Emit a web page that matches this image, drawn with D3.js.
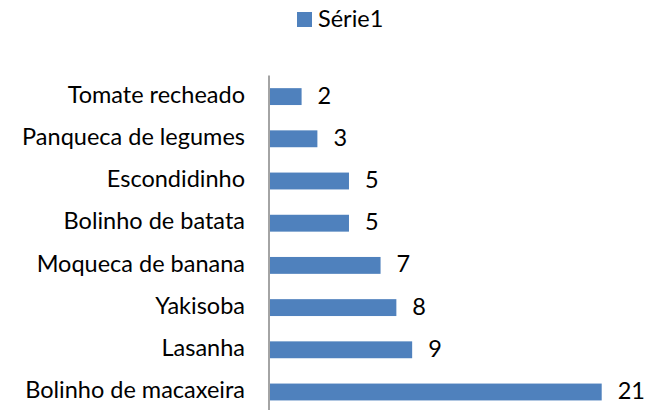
<!DOCTYPE html>
<html lang="pt">
<head>
<meta charset="UTF-8">
<title>Série1</title>
<script src="https://d3js.org/d3.v7.min.js"></script>
<style>
  body { margin: 0; background: #fff; }
  text { font-family: Lato, "Open Sans", sans-serif; fill: #000; font-size: 23.5px; }
</style>
</head>
<body>
<div id="chart"></div>
<script>
// chart data
const categories = ["Tomate recheado", "Panqueca de legumes", "Escondidinho", "Bolinho de batata",
                    "Moqueca de banana", "Yakisoba", "Lasanha", "Bolinho de macaxeira"];
const values = [2, 3, 5, 5, 7, 8, 9, 21];
const seriesName = "Série1";

const width = 647, height = 410;
const axisX = 269, plotTop = 75.5, bandStep = 42.2;

const svg = d3.select("#chart").append("svg")
    .attr("width", width)
    .attr("height", height);

const x = d3.scaleLinear().domain([0, 21]).range([axisX + 1, 601.7]);
const y = d3.scaleBand()
    .domain(categories)
    .range([plotTop, plotTop + bandStep * categories.length])
    .paddingInner(0.6)
    .paddingOuter(0.3);

// bars
svg.selectAll("rect.bar")
    .data(values)
    .enter().append("rect")
    .attr("class", "bar")
    .attr("x", x(0))
    .attr("y", (d, i) => y(categories[i]))
    .attr("width", d => x(d) - x(0))
    .attr("height", y.bandwidth())
    .attr("fill", "#4f81bd");

// value labels
svg.selectAll("text.val")
    .data(values)
    .enter().append("text")
    .attr("class", "val")
    .attr("x", d => x(d) + 16)
    .attr("y", (d, i) => y(categories[i]) + y.bandwidth() / 2)
    .attr("dy", "0.3em")
    .text(d => d);

// category labels
svg.selectAll("text.cat")
    .data(categories)
    .enter().append("text")
    .attr("class", "cat")
    .attr("x", 245)
    .attr("y", d => y(d) + y.bandwidth() / 2)
    .attr("dy", "0.26em")
    .attr("text-anchor", "end")
    .text(d => d);

// axis line
svg.append("line")
    .attr("x1", axisX).attr("x2", axisX)
    .attr("y1", plotTop).attr("y2", height)
    .attr("stroke", "#868686")
    .attr("stroke-width", 1.5);

// legend
const legend = svg.append("g").attr("transform", "translate(297,12)");
legend.append("rect")
    .attr("width", 15).attr("height", 15)
    .attr("fill", "#4f81bd");
legend.append("text")
    .attr("x", 21).attr("y", 7.5)
    .attr("dy", "0.3em")
    .text(seriesName);
</script>
</body>
</html>
